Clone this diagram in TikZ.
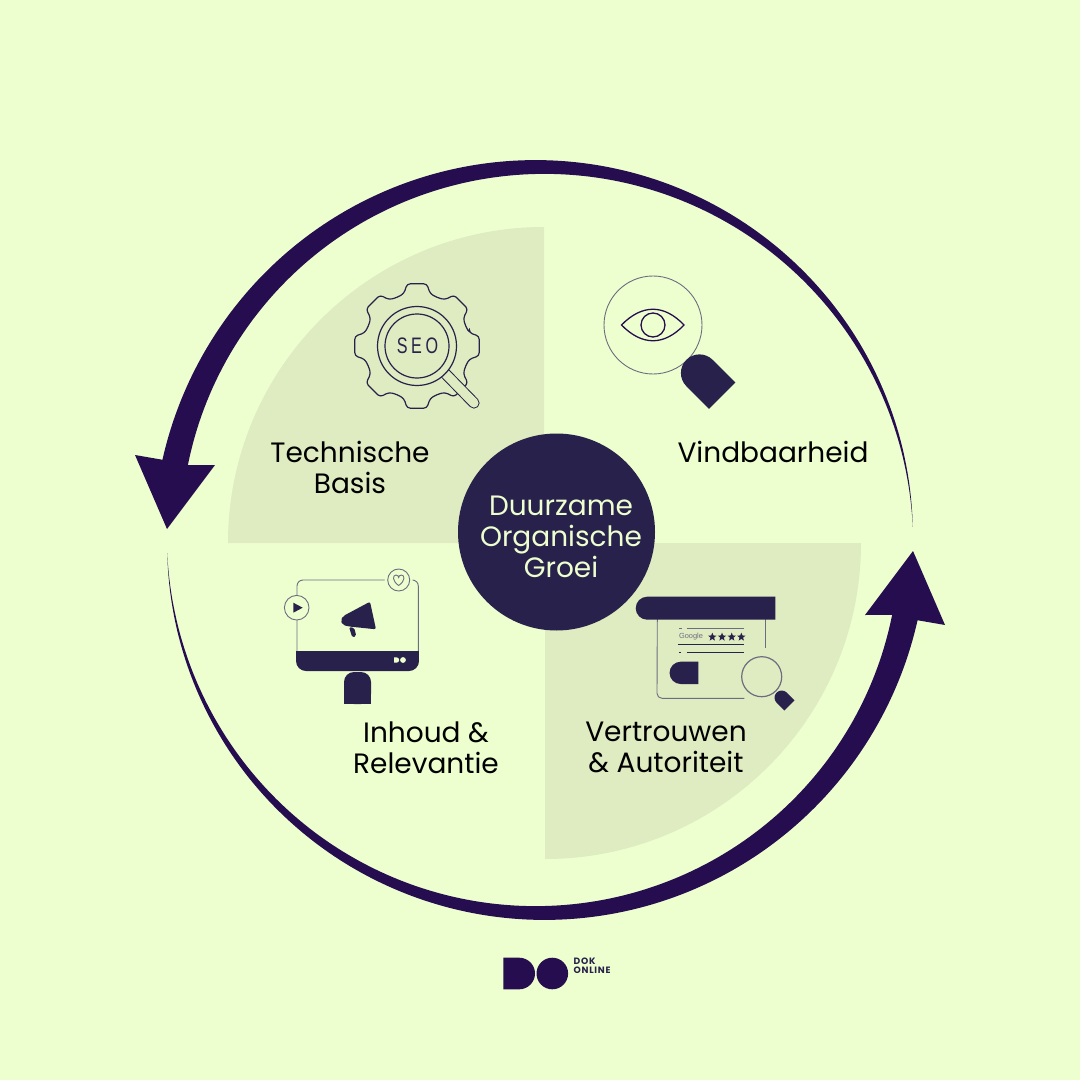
\documentclass[tikz,border=0pt]{standalone}
\usepackage{fontspec}
\usetikzlibrary{shapes.geometric}
\setmainfont{Poppins}
\definecolor{bg}{HTML}{EEFFCF}
\definecolor{sector}{HTML}{DFEBC1}
\definecolor{navy}{HTML}{27214B}
\definecolor{arrowc}{HTML}{260D50}
\definecolor{hairc}{HTML}{6E6C80}
\newcommand{\dshape}[6]{% cx cy r len angle colour
  \fill[#6,shift={(#1,#2)},rotate=#5] (#4,#3) -- (0,#3) arc[start angle=90,end angle=270,radius=#3] -- (#4,-#3) -- cycle;}
\tikzset{
  lbl/.style={font=\fontsize{14}{15.5}\selectfont,align=center,text=black,inner sep=0pt},
  hair/.style={draw=hairc,line width=0.45pt},
  ink/.style={draw=navy,line width=0.6pt},
  growfill/.style={fill=arrowc,draw=none},
  ministar/.style={star,star points=5,star point ratio=2.3,fill=navy,minimum size=4.4pt,inner sep=0pt}
}
\begin{document}
\begin{tikzpicture}[x=0.5pt,y=-0.5pt]
\path[fill=bg,use as bounding box] (0,0) rectangle (1080,1080);
% quarter sectors
\fill[sector] (544,543) -- (228,543) .. controls (228,368.5) and (369.5,227) .. (544,227) -- cycle;
\fill[sector] (545,543) -- (861,543) .. controls (861,717.5) and (719.5,859) .. (545,859) -- cycle;
% growing arrows
\foreach \rot in {0,180}{
\begin{scope}[rotate around={\rot:(540,540)}]
\path[growfill] plot[domain=2:168,samples=140,smooth] ({540+(373+13*(\x-2)/166)*cos(\x)},{540-(373+13*(\x-2)/166)*sin(\x)})
  -- (135,455) -- (167,529) -- (215,465)
  -- plot[domain=168:2,samples=140,smooth] ({540+(373-13*(\x-2)/166)*cos(\x)},{540-(373-13*(\x-2)/166)*sin(\x)}) -- cycle;
\end{scope}}
% centre
\node[circle,fill=navy,minimum size=98.5pt,inner sep=0pt] (hub) at (556.5,532) {};
\node[lbl,text=bg] (hubtext) at (561,536.5) {Duurzame\\Organische\\Groei};
% gear icon
\draw[ink,rounded corners=1.6pt] ({417+54*cos(-14)},{346+54*sin(-14)})
  \foreach \a in {0,45,...,315}{
   -- ({417+54*cos(\a-14)},{346+54*sin(\a-14)})
   -- ({417+63*cos(\a-9)},{346+63*sin(\a-9)})
   -- ({417+63*cos(\a+9)},{346+63*sin(\a+9)})
   -- ({417+54*cos(\a+14)},{346+54*sin(\a+14)})
   -- ({417+52.5*cos(\a+22.5)},{346+52.5*sin(\a+22.5)})
  } -- cycle;
\draw[navy,line width=5.6pt,line cap=round] (445.5,373.8) -- (474,403);
\draw[sector,line width=4.6pt,line cap=round] (445.5,373.8) -- (474,403);
\draw[ink,fill=sector] (417,346) circle[radius=39.5];
\draw[ink] (417,346) circle[radius=32];
\node[inner sep=0pt,text=navy] (seo) at (417.5,346) {\scalebox{0.72}[1]{\fontspec{Liberation Sans}[LetterSpace=22]\fontsize{11.2}{13}\selectfont SEO}};
% eye icon
\draw[hair] (653,325) circle[radius=49];
\draw[draw=arrowc,line width=0.65pt] (621.5,325) .. controls (642,304) and (664,304) .. (684,325) .. controls (664,346) and (642,346) .. (621.5,325) -- cycle;
\draw[draw=arrowc,line width=0.65pt] (653,325) circle[radius=12];
\dshape{699.5}{373}{18.6}{32}{-45}{navy}
% screen icon
\draw[hair,rounded corners=3pt] (297,651) -- (297,580) -- (418.3,580) -- (418.3,651);
\fill[navy,rounded corners=5pt] (296,651) -- (296,671) -- (419,671) -- (419,651) -- cycle;
\fill[navy] (296,651) rectangle (419,660);
\fill[navy,rounded corners=5pt] (344,704) -- (344,672) -- (371,672) -- (371,704) -- cycle;
\fill[navy] (344,695) rectangle (371,704);
\fill[bg] (394,657.3) -- (396.5,657.3) arc[start angle=-90,end angle=90,radius=2.7] -- (394,662.7) -- cycle;
\fill[bg] (403,660) circle[radius=2.9];
\draw[hair,fill=bg] (296.7,607.7) circle[radius=12.3];
\fill[navy] (293.3,602.7) -- (302.7,607.7) -- (293.3,612.7) -- cycle;
\path[fill=bg] (398.7,580) circle[radius=14];
\draw[hair] (398.7,580) circle[radius=11];
\draw[hair] (398.7,585.5) .. controls (392,581) and (392.5,575) .. (396,575) .. controls (397.7,575) and (398.7,576.5) .. (398.7,577.5) .. controls (398.7,576.5) and (399.7,575) .. (401.4,575) .. controls (405,575) and (405.4,581) .. (398.7,585.5) -- cycle;
\fill[navy,rounded corners=1pt] (370,601.7) -- (376,629.3) -- (349,626.5) -- (343,625) -- (340.5,620.5) -- (343.3,616) -- cycle;
\fill[navy,rounded corners=0.8pt] (349,627) -- (352.3,637.5) -- (356.3,636) -- (354.3,628) -- cycle;
% rating icon
\draw[hair] (744.3,698.3) -- (662,698.3) arc[start angle=90,end angle=180,radius=5] -- (657.3,619);
\draw[hair] (765,619) -- (765,647.7);
\fill[navy] (775.3,596.7) -- (647.2,596.7) arc[start angle=270,end angle=90,radius=11.5] -- (775.3,619.7) -- cycle;
\draw[hair] (679,628.3) -- (681.7,628.3) (686.7,628.3) -- (744.3,628.3);
\node[inner sep=0pt,text=hairc] (google) at (691,636.7) {\fontspec{Liberation Sans}\fontsize{3.7}{5}\selectfont Google};
\foreach \sx [count=\si] in {712.3,722,731.7,741.3}{
  \node[ministar] (star\si) at (\sx,637) {};
}
\draw[ink,line width=0.4pt] (678.3,644.3) -- (744.3,644.3);
\draw[ink,line width=0.4pt] (679,652.7) -- (681,652.7) (686.7,652.7) -- (744.3,652.7);
\fill[navy] (698.3,661.7) -- (680.7,661.7) arc[start angle=270,end angle=90,radius=11.15] -- (698.3,684) -- cycle;
\draw[hairc,line width=0.6pt] (761.7,676.7) circle[radius=20];
\dshape{781.7}{697.7}{7.2}{11}{-45}{navy}
% labels
\node[lbl] (tech) at (350,467.5) {Technische\\Basis};
\node[lbl] (vind) at (773,452) {Vindbaarheid};
\node[lbl] (inh) at (426,747.5) {Inhoud \&\\Relevantie};
\node[lbl] (vert) at (666,747.5) {Vertrouwen\\\& Autoriteit};
% logo
\fill[arrowc] (503.3,957.7) -- (519.2,957.7) arc[start angle=-90,end angle=90,radius=15.8] -- (503.3,989.3) -- cycle;
\fill[arrowc] (552.3,973.5) circle[radius=15.8];
\node[inner sep=0pt,anchor=west,text=navy] (dok) at (573.3,961.3) {\fontspec{Poppins}[LetterSpace=8]\bfseries\fontsize{4.6}{5}\selectfont DOK};
\node[inner sep=0pt,anchor=west,text=navy] (online) at (573.3,970) {\fontspec{Poppins}[LetterSpace=8]\bfseries\fontsize{4.6}{5}\selectfont ONLINE};
\end{tikzpicture}
\end{document}
